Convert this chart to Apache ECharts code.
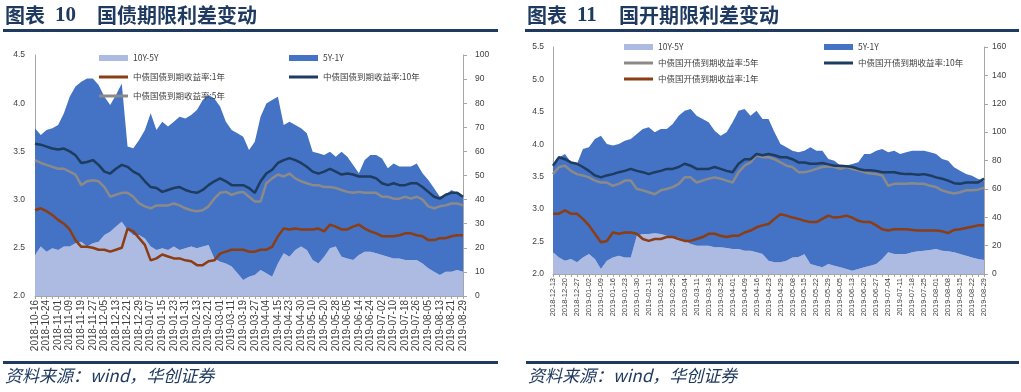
<!DOCTYPE html>
<html><head><meta charset="utf-8">
<script src="https://cdn.jsdelivr.net/npm/echarts/dist/echarts.min.js"></script>
<style>html,body{margin:0;padding:0;background:#fff}#c{width:1021px;height:392px}</style>
</head><body><div id="c"></div>
<script>
// ---------- Panel 1: 国债 ----------
const catsL = ['2018-10-16','2018-10-19','2018-10-24','2018-10-29','2018-11-01','2018-11-06','2018-11-09','2018-11-14','2018-11-19','2018-11-22','2018-11-27','2018-11-30','2018-12-05','2018-12-10','2018-12-13','2018-12-18','2018-12-21','2018-12-26','2018-12-29','2019-01-04','2019-01-07','2019-01-10','2019-01-15','2019-01-18','2019-01-23','2019-01-28','2019-01-31','2019-02-11','2019-02-13','2019-02-18','2019-02-21','2019-02-26','2019-03-01','2019-03-06','2019-03-11','2019-03-14','2019-03-19','2019-03-22','2019-03-27','2019-04-01','2019-04-04','2019-04-10','2019-04-15','2019-04-18','2019-04-23','2019-04-26','2019-04-30','2019-05-07','2019-05-10','2019-05-15','2019-05-20','2019-05-23','2019-05-28','2019-05-31','2019-06-05','2019-06-11','2019-06-14','2019-06-19','2019-06-24','2019-06-27','2019-07-02','2019-07-05','2019-07-10','2019-07-15','2019-07-18','2019-07-23','2019-07-26','2019-07-31','2019-08-05','2019-08-08','2019-08-13','2019-08-16','2019-08-21','2019-08-26','2019-08-29'];
const govt_10y5y = [17.0,20.5,18.4,19.8,19.1,20.5,20.5,21.9,22.5,20.5,21.9,22.5,25.3,26.7,28.8,30.8,27.4,25.3,25.3,23.9,20.5,19.1,19.8,19.1,20.5,19.1,19.8,20.5,19.8,20.5,21.2,15.6,14.2,13.5,12.2,9.4,6.6,8.0,8.7,10.8,9.4,8.0,13.5,17.7,16.3,19.1,20.5,19.1,14.9,13.5,16.3,19.8,20.5,16.3,15.6,14.9,17.0,18.4,18.4,17.7,17.0,16.3,15.6,15.6,14.9,14.9,14.9,13.5,11.5,10.1,8.7,10.1,10.1,10.8,10.1];
const govt_5y1y = [52.6,46.3,50.5,49.8,51.9,55.3,62.2,65.0,66.4,69.8,68.4,65.1,57.4,52.6,54.6,57.4,34.6,36.0,39.4,45.0,55.3,49.8,52.5,51.2,51.8,55.3,53.9,54.6,57.4,60.8,62.2,66.4,64.4,58.8,56.7,58.1,59.5,52.6,55.3,63.6,70.5,73.3,69.2,53.3,56.0,51.9,49.1,48.4,45.0,45.7,42.2,40.1,37.3,43.6,42.2,39.5,33.9,38.0,40.1,40.8,40.1,36.7,39.4,38.1,38.8,38.8,40.1,37.4,36.6,34.6,32.5,31.8,33.9,31.8,31.1];
const govt_1y = [2.89,2.91,2.88,2.84,2.79,2.75,2.69,2.58,2.51,2.51,2.50,2.48,2.48,2.46,2.48,2.50,2.70,2.67,2.60,2.53,2.37,2.39,2.43,2.41,2.39,2.39,2.37,2.36,2.32,2.32,2.36,2.37,2.44,2.46,2.48,2.48,2.48,2.46,2.46,2.48,2.48,2.51,2.62,2.70,2.69,2.70,2.69,2.69,2.69,2.70,2.67,2.74,2.72,2.69,2.69,2.72,2.74,2.70,2.67,2.65,2.62,2.62,2.62,2.63,2.65,2.65,2.63,2.62,2.58,2.58,2.60,2.60,2.62,2.63,2.63];
const govt_5y = [3.41,3.38,3.36,3.34,3.32,3.32,3.29,3.26,3.15,3.19,3.20,3.19,3.13,3.03,3.05,3.07,3.07,3.03,2.96,2.93,2.91,2.94,2.94,2.94,2.96,2.94,2.91,2.89,2.88,2.89,2.93,3.01,3.07,3.08,3.05,3.07,3.08,3.03,2.98,2.98,3.17,3.22,3.26,3.24,3.27,3.22,3.19,3.17,3.15,3.15,3.13,3.13,3.12,3.10,3.08,3.07,3.08,3.07,3.07,3.07,3.03,3.03,3.01,3.01,3.03,3.01,3.03,3.00,2.93,2.91,2.93,2.94,2.96,2.96,2.94];
const govt_10y = [3.58,3.57,3.55,3.53,3.52,3.53,3.50,3.46,3.38,3.39,3.41,3.36,3.29,3.27,3.32,3.36,3.34,3.29,3.26,3.19,3.13,3.12,3.08,3.10,3.12,3.13,3.10,3.08,3.07,3.10,3.15,3.19,3.22,3.19,3.15,3.15,3.15,3.12,3.07,3.19,3.27,3.31,3.38,3.41,3.43,3.41,3.38,3.34,3.29,3.27,3.29,3.32,3.29,3.26,3.27,3.26,3.24,3.24,3.24,3.22,3.17,3.15,3.17,3.15,3.15,3.17,3.17,3.13,3.08,3.03,3.01,3.05,3.07,3.07,3.03];

// ---------- Panel 2: 国开 ----------
const catsR = ['2018-12-13','2018-12-17','2018-12-20','2018-12-24','2018-12-27','2018-12-29','2019-01-02','2019-01-07','2019-01-09','2019-01-11','2019-01-16','2019-01-18','2019-01-23','2019-01-25','2019-01-30','2019-02-01','2019-02-11','2019-02-13','2019-02-18','2019-02-20','2019-02-25','2019-02-27','2019-03-04','2019-03-06','2019-03-11','2019-03-13','2019-03-18','2019-03-20','2019-03-25','2019-03-27','2019-04-01','2019-04-03','2019-04-09','2019-04-11','2019-04-16','2019-04-18','2019-04-23','2019-04-25','2019-04-29','2019-05-06','2019-05-08','2019-05-10','2019-05-15','2019-05-17','2019-05-22','2019-05-24','2019-05-29','2019-05-31','2019-06-05','2019-06-11','2019-06-13','2019-06-17','2019-06-20','2019-06-24','2019-06-27','2019-07-01','2019-07-04','2019-07-08','2019-07-11','2019-07-15','2019-07-18','2019-07-22','2019-07-25','2019-07-29','2019-08-01','2019-08-05','2019-08-08','2019-08-12','2019-08-15','2019-08-19','2019-08-22','2019-08-26','2019-08-29'];
const cdb_10y5y = [15.3,11.7,9.4,10.6,8.2,11.7,14.1,10.6,3.5,9.4,11.7,12.9,11.7,11.7,27.0,28.2,28.2,28.7,28.2,27.0,25.8,25.8,23.5,21.1,20.0,20.0,20.0,18.8,18.8,18.3,17.6,17.6,16.4,16.4,15.3,14.1,9.4,8.2,8.2,9.4,11.7,12.0,14.0,7.0,5.9,4.7,7.0,5.9,4.7,3.5,2.3,3.5,4.7,5.9,7.0,10.6,15.3,14.1,14.1,14.1,15.3,16.0,16.4,16.9,17.6,16.4,16.0,15.3,14.1,12.9,11.7,10.6,9.9];
const cdb_5y1y = [61.1,70.5,75.2,68.1,69.3,76.4,75.2,84.6,94.0,82.2,78.8,78.7,82.3,83.5,71.7,74.0,75.2,71.2,74.0,75.2,79.9,85.8,91.6,95.2,91.6,89.3,86.9,82.2,78.7,81.6,89.3,97.5,99.9,95.2,99.8,95.2,99.9,91.7,83.4,79.9,75.2,73.8,72.9,82.3,81.0,82.2,74.1,74.0,71.7,72.9,75.2,75.2,79.9,78.7,79.9,77.5,70.5,72.8,70.5,71.7,71.6,70.9,70.5,68.9,67.0,64.7,63.9,59.9,58.7,57.6,57.6,56.4,55.9];
const cdb_1y = [2.93,2.93,2.98,2.93,2.93,2.85,2.75,2.62,2.49,2.51,2.64,2.62,2.64,2.64,2.62,2.54,2.51,2.54,2.54,2.57,2.57,2.54,2.51,2.51,2.54,2.57,2.62,2.62,2.59,2.57,2.59,2.59,2.64,2.67,2.72,2.75,2.77,2.85,2.92,2.90,2.87,2.85,2.82,2.80,2.80,2.85,2.90,2.87,2.88,2.90,2.87,2.82,2.80,2.80,2.75,2.69,2.67,2.69,2.69,2.69,2.68,2.67,2.67,2.67,2.67,2.66,2.63,2.68,2.69,2.71,2.73,2.75,2.75];
const cdb_5y = [3.54,3.65,3.67,3.59,3.54,3.52,3.49,3.44,3.41,3.41,3.36,3.39,3.44,3.44,3.31,3.29,3.26,3.23,3.29,3.31,3.34,3.39,3.49,3.49,3.41,3.44,3.47,3.49,3.47,3.44,3.41,3.57,3.67,3.72,3.83,3.80,3.80,3.77,3.72,3.67,3.65,3.57,3.57,3.59,3.62,3.65,3.66,3.65,3.62,3.65,3.62,3.60,3.57,3.55,3.54,3.52,3.36,3.39,3.39,3.39,3.40,3.39,3.39,3.36,3.34,3.29,3.26,3.24,3.26,3.29,3.29,3.30,3.33];
const cdb_10y = [3.67,3.80,3.77,3.72,3.70,3.65,3.59,3.52,3.49,3.52,3.54,3.57,3.59,3.62,3.59,3.57,3.54,3.57,3.59,3.62,3.62,3.65,3.70,3.67,3.62,3.62,3.62,3.65,3.62,3.59,3.57,3.70,3.77,3.77,3.85,3.83,3.85,3.83,3.80,3.80,3.77,3.72,3.72,3.70,3.70,3.71,3.69,3.67,3.67,3.66,3.65,3.62,3.60,3.60,3.59,3.57,3.57,3.57,3.55,3.54,3.54,3.53,3.54,3.52,3.49,3.47,3.44,3.40,3.39,3.41,3.41,3.41,3.47];

const NAME_A = '10Y-5Y', NAME_B = '5Y-1Y';
const namesL = ['中债国债到期收益率:1年','中债国债到期收益率:5年','中债国债到期收益率:10年'];
const namesR = ['中债国开债到期收益率:1年','中债国开债到期收益率:5年','中债国开债到期收益率:10年'];

const C_LIGHT = '#adbae2', C_DARK = '#4472c4', C_1Y = '#8b3d14', C_5Y = '#8c8a88', C_10Y = '#1e3b60';
const NAVY = '#1f3a60';
const AXC = '#a6a6a6', TXT = '#404040';
const SANS = 'Liberation Sans, Noto Sans CJK SC, sans-serif';
const CJK = 'Noto Sans CJK SC, sans-serif';

function area(name, data, color, gi){
  return {type:'line', name, data, xAxisIndex:gi, yAxisIndex:gi*2+1, stack:'s'+gi, symbol:'none',
    lineStyle:{width:0, color}, itemStyle:{color}, areaStyle:{color, opacity:1}, z:1};
}
function line(name, data, color, gi, w){
  return {type:'line', name, data, xAxisIndex:gi, yAxisIndex:gi*2, symbol:'none',
    lineStyle:{width:w, color}, itemStyle:{color}, z:3};
}
function xAx(gi, cats, fs){
  return {type:'category', gridIndex:gi, data:cats, boundaryGap:false,
    axisLine:{lineStyle:{color:AXC, width:1}},
    axisTick:{show:true, interval:0, length:3, lineStyle:{color:AXC}},
    axisLabel:{interval:1, rotate:90, fontSize:fs, color:TXT, margin:4, fontFamily:SANS},
    splitLine:{show:false}};
}
function yAx(gi, pos, min, max, iv, fs, margin, ticks, fmt){
  return {type:'value', gridIndex:gi, position:pos, min, max, interval:iv,
    axisLine:{show:true, lineStyle:{color:AXC}},
    axisTick:{show:ticks, length:4, lineStyle:{color:AXC}},
    axisLabel:{fontSize:fs, color:TXT, margin, fontFamily:SANS, formatter:fmt},
    splitLine:{show:false}};
}
const f1 = v => v.toFixed(1);
const f0 = v => String(v);

// one legend component per item, so each icon can have its own height
function leg(left, centerY, name, h){
  return {left, top:centerY - 6, padding:0, itemWidth:29, itemHeight:h,
    selectedMode:false, data:[{name, icon:'rect'}],
    textStyle:{fontSize:8.5, color:TXT, fontFamily:CJK, lineHeight:12}};
}

const chart = echarts.init(document.getElementById('c'), null, {renderer:'canvas'});
chart.setOption({
  animation:false,
  backgroundColor:'#ffffff',
  grid:[
    {left:35, top:55, width:428, height:241},
    {left:553, top:47, width:431, height:227}
  ],
  xAxis:[xAx(0, catsL, 10), xAx(1, catsR, 7.5)],
  yAxis:[
    yAx(0,'left',2.0,4.5,0.5,8.5,10,false,f1),
    yAx(0,'right',0,100,10,8.5,12,true,f0),
    yAx(1,'left',2.0,5.5,0.5,8.5,9,false,f1),
    yAx(1,'right',0,160,20,8.5,8,true,f0)
  ],
  legend:[
    leg(99, 58, NAME_A, 6),
    leg(99, 77, namesL[0], 3),
    leg(99, 96, namesL[1], 3),
    leg(289, 58, NAME_B, 6),
    leg(289, 77, namesL[2], 3),
    leg(624, 47, NAME_A, 6),
    leg(624, 63, namesR[1], 3),
    leg(624, 79, namesR[0], 3),
    leg(824, 47, NAME_B, 6),
    leg(824, 63, namesR[2], 3)
  ],
  series:[
    area(NAME_A, govt_10y5y, C_LIGHT, 0),
    area(NAME_B, govt_5y1y, C_DARK, 0),
    line(namesL[0], govt_1y, C_1Y, 0, 2.5),
    line(namesL[1], govt_5y, C_5Y, 0, 2.5),
    line(namesL[2], govt_10y, C_10Y, 0, 2.5),
    area(NAME_A, cdb_10y5y, C_LIGHT, 1),
    area(NAME_B, cdb_5y1y, C_DARK, 1),
    line(namesR[0], cdb_1y, C_1Y, 1, 2.5),
    line(namesR[1], cdb_5y, C_5Y, 1, 2.5),
    line(namesR[2], cdb_10y, C_10Y, 1, 2.5)
  ],
  graphic:[
    {type:'text', left:5, top:5, style:{text:'图表', fill:NAVY, font:'bold 20px Noto Sans CJK SC'}},
    {type:'text', left:55, top:5, style:{text:'10', fill:NAVY, font:'bold 21px Liberation Serif'}},
    {type:'text', left:97, top:5, style:{text:'国债期限利差变动', fill:NAVY, font:'bold 20px Noto Sans CJK SC'}},
    {type:'rect', shape:{x:3, y:29, width:495, height:3}, style:{fill:NAVY}},
    {type:'text', left:527, top:5, style:{text:'图表', fill:NAVY, font:'bold 20px Noto Sans CJK SC'}},
    {type:'text', left:577, top:5, style:{text:'11', fill:NAVY, font:'bold 21px Liberation Serif'}},
    {type:'text', left:619, top:5, style:{text:'国开期限利差变动', fill:NAVY, font:'bold 20px Noto Sans CJK SC'}},
    {type:'rect', shape:{x:525, y:29, width:494, height:3}, style:{fill:NAVY}},
    {type:'rect', shape:{x:3, y:361, width:495, height:3}, style:{fill:NAVY}},
    {type:'rect', shape:{x:526, y:361, width:493, height:3}, style:{fill:NAVY}},
    {type:'text', left:5, top:367, style:{text:'资料来源：wind，华创证券', fill:NAVY, font:'italic 17px Noto Sans CJK SC'}},
    {type:'text', left:528, top:367, style:{text:'资料来源：wind，华创证券', fill:NAVY, font:'italic 17px Noto Sans CJK SC'}}
  ]
});
</script></body></html>
